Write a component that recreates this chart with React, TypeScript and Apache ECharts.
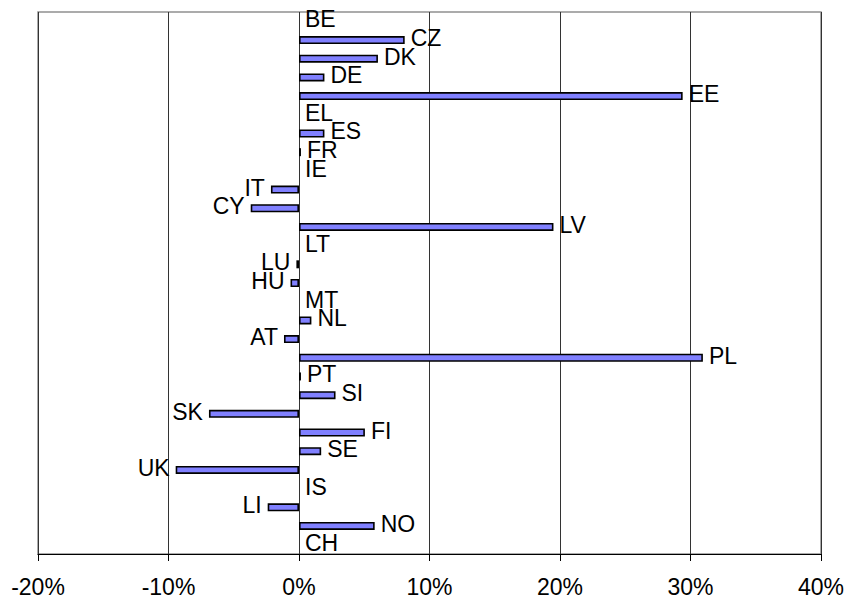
import React, { useEffect, useRef } from "react";
import * as echarts from "echarts";

const categories = [
  "BE", "CZ", "DK", "DE", "EE", "EL", "ES", "FR", "IE", "IT", "CY", "LV", "LT", "LU", "HU",
  "MT", "NL", "AT", "PL", "PT", "SI", "SK", "FI", "SE", "UK", "IS", "LI", "NO", "CH",
];

const values = [
  0, 8.1, 6.05, 1.95, 29.4, 0, 1.95, 0.15, 0, -2.15, -3.7, 19.5, 0, -0.2, -0.65,
  0, 0.95, -1.15, 30.95, 0.15, 2.8, -6.9, 5.05, 1.7, -9.45, 0, -2.4, 5.8, 0,
];

const xTicks = { min: -20, max: 40, interval: 10 };

const FONT = "'Liberation Sans', Arial, sans-serif";

export default function App() {
  const ref = useRef<HTMLDivElement>(null);

  useEffect(() => {
    if (!ref.current) return;
    const chart = echarts.init(ref.current, null, { renderer: "svg" });
    const data = values.map((v, i) => ({
      value: v,
      name: categories[i],
      itemStyle: v === 0 ? { borderWidth: 0 } : undefined,
      label: {
        position: v < 0 ? "left" : "right",
      },
    }));
    chart.setOption({
      animation: false,
      backgroundColor: "#ffffff",
      grid: {
        left: 38,
        right: 23,
        top: 12,
        bottom: 41,
        show: true,
        borderColor: "#909090",
        borderWidth: 1.5,
        backgroundColor: "transparent",
      },
      xAxis: {
        type: "value",
        min: xTicks.min,
        max: xTicks.max,
        interval: xTicks.interval,
        axisLine: { show: true, onZero: false, lineStyle: { color: "#000", width: 1 } },
        axisTick: { show: true, inside: false, length: 7, lineStyle: { color: "#000" } },
        axisLabel: {
          formatter: "{value}%",
          color: "#000",
          fontSize: 23,
          fontFamily: FONT,
          margin: 21,
        },
        splitLine: { show: true, lineStyle: { color: "#333", width: 1 } },
      },
      yAxis: {
        type: "category",
        data: categories,
        inverse: true,
        axisLine: { show: false },
        axisTick: { show: false },
        axisLabel: { show: false },
        splitLine: { show: false },
      },
      series: [
        {
          type: "bar",
          data,
          barWidth: 8,
          itemStyle: { color: "#8080ff", borderColor: "#000", borderWidth: 1.6 },
          label: {
            show: true,
            formatter: "{b}",
            color: "#000",
            fontSize: 23,
            fontFamily: FONT,
            distance: 6,
            offset: [0, -2],
          },
        },
      ],
    });
    return () => chart.dispose();
  }, []);

  return (
    <div
      ref={ref}
      style={{ position: "absolute", left: 0, top: 0, width: 847, height: 598 }}
    />
  );
}
